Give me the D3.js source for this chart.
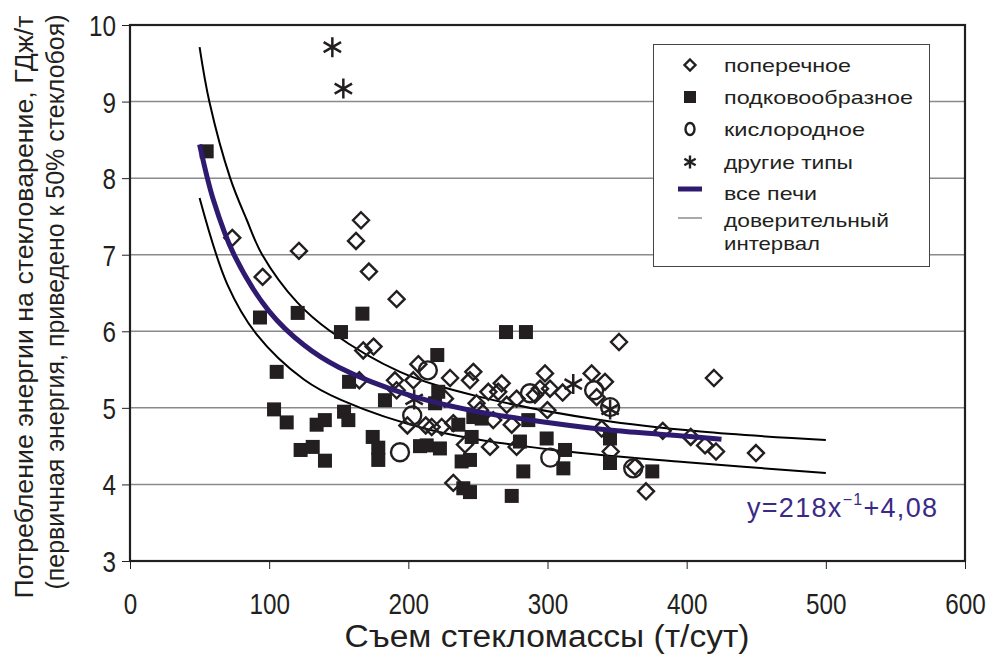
<!DOCTYPE html>
<html>
<head>
<meta charset="utf-8">
<script src="https://cdn.jsdelivr.net/npm/d3@7"></script>
<style>
  body { margin: 0; background: #fff; }
  .narrow { font-family: "Liberation Sans Narrow", "Arial Narrow", "Liberation Sans", Arial, sans-serif; }
  .reg { font-family: "Liberation Sans", Arial, Helvetica, sans-serif; }
</style>
</head>
<body>
<script>
// поперечное (cross-fired)
const crossFired = [
  [73.5,7.22],[95.3,6.71],[121.4,7.05],[162.4,7.18],[166,7.45],[171.7,6.78],[191.6,6.42],
  [167.6,5.75],[175,5.80],[164.8,5.36],[190.4,5.36],[191.6,5.23],[203.6,5.36],[207.2,5.57],
  [199.3,4.77],[212.5,4.77],[216.8,4.75],[224,4.75],[232.3,4.80],[230,5.39],[244.3,5.36],
  [246.7,5.47],[226.3,5.12],[251.5,4.97],[249,5.06],[257.5,5.21],[264.6,5.21],[267.1,5.32],
  [270.7,5.04],[277.8,5.12],[291,5.17],[294.6,5.25],[298.2,5.45],[240.7,4.52],[258.7,4.49],
  [261,4.84],[274.3,4.78],[277.8,4.49],[232.3,4.02],[299.9,4.97],[301.8,5.25],[310.9,5.20],
  [331.7,5.45],[341.3,5.34],[335.3,5.14],[338.9,4.73],[345.4,4.43],[351.4,5.86],[362.9,4.23],
  [370.8,3.91],[382.8,4.70],[402.9,4.62],[413.2,4.51],[419.6,5.39],[421.1,4.43],[449.8,4.41]
];
// подковообразное (end-fired)
const endFired = [
  [55.1,8.35],[93.4,6.18],[120.5,6.24],[151.6,5.99],[167,6.23],[105.4,5.47],[157.4,5.34],
  [183.2,5.10],[103.5,4.98],[112.6,4.81],[134.1,4.78],[140,4.84],[153.8,4.95],[156.9,4.84],
  [122.6,4.45],[131.3,4.49],[140.1,4.31],[174.4,4.62],[178.4,4.48],[178.4,4.32],[208.4,4.50],
  [220.8,5.69],[221.5,5.21],[219.2,5.06],[270.2,5.99],[284.5,5.99],[246.7,4.88],[252.7,4.86],
  [235.9,4.78],[245.5,4.62],[213.2,4.51],[222.7,4.47],[238.3,4.30],[244.3,4.32],[239.5,3.95],
  [244.3,3.90],[274.3,3.85],[286.2,4.84],[280.2,4.56],[282.6,4.17],[299.4,4.60],[312.6,4.45],
  [311.4,4.21],[344.9,4.60],[344.9,4.28],[375.3,4.17]
];
// кислородное (oxy-fuel)
const oxyFuel = [[194,4.42],[202.8,4.90],[214,5.49],[287.4,5.19],[302,4.35],[333.5,5.23],[345,5.01],[361.6,4.21]];
// другие типы
const otherTypes = [[145.4,9.71],[153.3,9.17],[204.2,5.11],[318.5,5.31],[345,4.98]];

// все печи: y=218x^-1+4,08
const fitX = [50, 60, 75, 100, 125, 150, 200, 250, 300, 350, 400, 425];
const fitY = [8.44, 7.71, 6.99, 6.26, 5.82, 5.53, 5.17, 4.95, 4.81, 4.70, 4.63, 4.59];
// доверительный интервал
const upperX = [50, 57, 72, 84, 95, 120, 144, 194, 250, 338, 410, 500];
const upperY = [9.71, 9.0, 8.0, 7.45, 7.0, 6.38, 6.0, 5.47, 5.15, 4.84, 4.69, 4.58];
const lowerX = [50, 70, 91, 125, 152, 216, 300, 400, 500];
const lowerY = [7.74, 6.61, 5.96, 5.37, 5.10, 4.71, 4.46, 4.29, 4.15];

const xTicks = [0, 100, 200, 300, 400, 500, 600];
const yTicks = [3, 4, 5, 6, 7, 8, 9, 10];
const legendLabels = ["поперечное", "подковообразное", "кислородное", "другие типы", "все печи", "доверительный", "интервал"];

const W = 992, H = 654;
const plot = {left: 130, right: 965, top: 25, bottom: 561};
const ink = "#231f20", purple = "#2e1a6e";

const x = d3.scaleLinear().domain([0, 600]).range([plot.left, plot.right]);
const y = d3.scaleLinear().domain([3, 10]).range([plot.bottom, plot.top]);

const svg = d3.select("body").append("svg").attr("width", W).attr("height", H);

// gridlines
svg.append("g").selectAll("line").data(yTicks.filter(t => t > 3 && t < 10)).enter()
  .append("line")
  .attr("x1", plot.left).attr("x2", plot.right)
  .attr("y1", d => y(d)).attr("y2", d => y(d))
  .attr("stroke", "#8a8a8a").attr("stroke-width", 1.5);

// axes
const xAxis = d3.axisBottom(x).tickValues(xTicks).tickFormat(d3.format("d")).tickSize(8).tickPadding(24);
const yAxis = d3.axisLeft(y).tickValues(yTicks).tickFormat(d3.format("d")).tickSize(8).tickPadding(6);
const gx = svg.append("g").attr("transform", "translate(0," + plot.bottom + ")").call(xAxis);
const gy = svg.append("g").attr("transform", "translate(" + plot.left + ",0)").call(yAxis);
[gx, gy].forEach(g => {
  g.select(".domain").remove();
  g.selectAll("line").attr("stroke", ink).attr("stroke-width", 1);
  g.selectAll("text").attr("class", "narrow").attr("font-size", 29).attr("fill", ink)
    .attr("textLength", function() { return this.textContent.length * 13.5; })
    .attr("lengthAdjust", "spacingAndGlyphs");
});
gy.selectAll("text").attr("dy", "0.36em");

// frame
svg.append("rect")
  .attr("x", plot.left).attr("y", plot.top)
  .attr("width", plot.right - plot.left).attr("height", plot.bottom - plot.top)
  .attr("fill", "none").attr("stroke", ink).attr("stroke-width", 2.2);

// curves
const line = d3.line().x(d => x(d[0])).y(d => y(d[1])).curve(d3.curveCatmullRom);
svg.append("path").datum(upperX.map((v, i) => [v, upperY[i]]))
  .attr("d", line).attr("fill", "none").attr("stroke", "#000").attr("stroke-width", 2);
svg.append("path").datum(lowerX.map((v, i) => [v, lowerY[i]]))
  .attr("d", line).attr("fill", "none").attr("stroke", "#000").attr("stroke-width", 2);

// markers
const diamond = s => "M0," + (-s) + "L" + s + ",0L0," + s + "L" + (-s) + ",0Z";
const star = s => {
  const a = s * 0.87, b = s * 0.5;
  return "M0," + (-s) + "V" + s + "M" + (-a) + "," + (-b) + "L" + a + "," + b + "M" + (-a) + "," + b + "L" + a + "," + (-b);
};

svg.append("g").selectAll("path").data(crossFired).enter().append("path")
  .attr("transform", d => "translate(" + x(d[0]) + "," + y(d[1]) + ")")
  .attr("d", diamond(8)).attr("fill", "none").attr("stroke", ink).attr("stroke-width", 2.4);

svg.append("g").selectAll("rect").data(endFired).enter().append("rect")
  .attr("x", d => x(d[0]) - 7).attr("y", d => y(d[1]) - 7)
  .attr("width", 14).attr("height", 14).attr("fill", ink);

svg.append("g").selectAll("circle").data(oxyFuel).enter().append("circle")
  .attr("cx", d => x(d[0])).attr("cy", d => y(d[1])).attr("r", 9)
  .attr("fill", "none").attr("stroke", ink).attr("stroke-width", 2.4);

svg.append("g").selectAll("path").data(otherTypes).enter().append("path")
  .attr("transform", d => "translate(" + x(d[0]) + "," + y(d[1]) + ")")
  .attr("d", star(10)).attr("fill", "none").attr("stroke", ink).attr("stroke-width", 2.5);

// fit line on top
svg.append("path").datum(fitX.map((v, i) => [v, fitY[i]]))
  .attr("d", line).attr("fill", "none").attr("stroke", purple).attr("stroke-width", 5);

// equation
const eq = svg.append("text").attr("class", "reg").attr("x", 747).attr("y", 517)
  .attr("font-size", 27).attr("letter-spacing", 1.3).attr("fill", "#3a2a86");
eq.append("tspan").text("y=218x");
eq.append("tspan").attr("font-size", 16).attr("dy", -12).text("−1");
eq.append("tspan").attr("dy", 12).text("+4,08");

// legend
const lg = svg.append("g");
lg.append("rect").attr("x", 653.5).attr("y", 44.5).attr("width", 276).attr("height", 222)
  .attr("fill", "#fff").attr("stroke", "#444").attr("stroke-width", 1);
const rowY = [65, 97, 129, 162, 193, 220, 243];
const labelW = [127, 189, 141, 129, 93, 165, 96];
legendLabels.forEach((t, i) => {
  lg.append("text").attr("class", "reg").attr("x", 724).attr("y", rowY[i] + 6.5)
    .attr("font-size", 18.5).attr("fill", ink)
    .attr("textLength", labelW[i]).attr("lengthAdjust", "spacingAndGlyphs").text(t);
});
const mx = 690;
lg.append("path").attr("transform", "translate(" + mx + "," + rowY[0] + ")")
  .attr("d", diamond(5.5)).attr("fill", "none").attr("stroke", ink).attr("stroke-width", 2.4);
lg.append("rect").attr("x", mx - 6).attr("y", rowY[1] - 6).attr("width", 12).attr("height", 12).attr("fill", ink);
lg.append("ellipse").attr("cx", mx).attr("cy", rowY[2]).attr("rx", 4.5).attr("ry", 6)
  .attr("fill", "none").attr("stroke", ink).attr("stroke-width", 2.4);
lg.append("path").attr("transform", "translate(" + mx + "," + rowY[3] + ")")
  .attr("d", star(6.5)).attr("fill", "none").attr("stroke", ink).attr("stroke-width", 2.4);
lg.append("line").attr("x1", 678).attr("x2", 702).attr("y1", rowY[4] - 4).attr("y2", rowY[4] - 4)
  .attr("stroke", purple).attr("stroke-width", 5);
lg.append("line").attr("x1", 678).attr("x2", 702).attr("y1", rowY[5] - 2).attr("y2", rowY[5] - 2)
  .attr("stroke", "#555").attr("stroke-width", 1);

// axis titles
svg.append("text").attr("class", "narrow").attr("x", 547).attr("y", 647)
  .attr("text-anchor", "middle").attr("font-size", 31).attr("fill", ink)
  .attr("textLength", 405).attr("lengthAdjust", "spacingAndGlyphs")
  .text("Съем стекломассы (т/сут)");
svg.append("text").attr("class", "narrow")
  .attr("transform", "translate(33,307) rotate(-90)")
  .attr("text-anchor", "middle").attr("font-size", 25).attr("fill", ink)
  .attr("textLength", 583).attr("lengthAdjust", "spacingAndGlyphs")
  .text("Потребление энергии на стекловарение, ГДж/т");
svg.append("text").attr("class", "narrow")
  .attr("transform", "translate(64,302) rotate(-90)")
  .attr("text-anchor", "middle").attr("font-size", 25).attr("fill", ink)
  .attr("textLength", 575).attr("lengthAdjust", "spacingAndGlyphs")
  .text("(первичная энергия, приведено к 50% стеклобоя)");
</script>
</body>
</html>
